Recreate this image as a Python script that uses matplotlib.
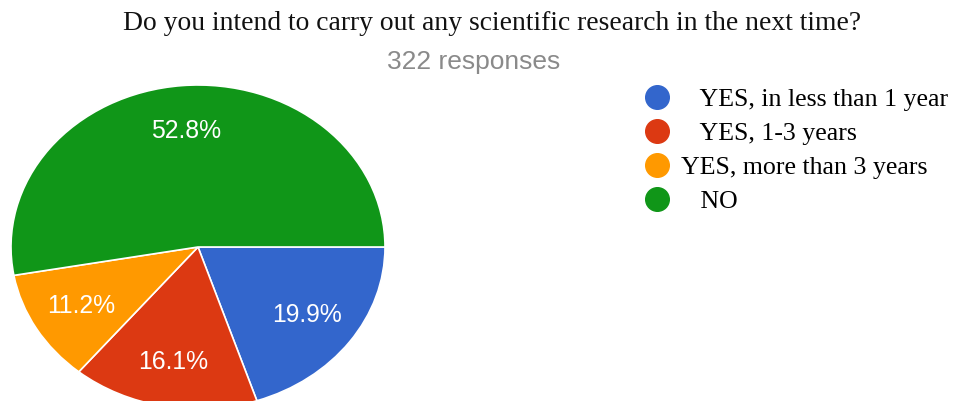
import matplotlib.pyplot as plt
from matplotlib.lines import Line2D

labels = ["YES, in less than 1 year", "YES, 1-3 years", "YES, more than 3 years", "NO"]
# leading spaces as in the original legend
legend_labels = ["   YES, in less than 1 year", "   YES, 1-3 years", "YES, more than 3 years", "   NO"]
shares = [19.9, 16.1, 11.2, 52.8]
colors = ["#3366cc", "#dc3912", "#ff9900", "#109618"]

W, H = 959, 401
fig = plt.figure(figsize=(W / 100, H / 100), dpi=100)

# pie axes, stretched horizontally like the screenshot
ax = fig.add_axes([11 / W, (401 - 409) / H, 374 / W, 324 / H])
wedges, texts, autotexts = ax.pie(
    shares, colors=colors, startangle=0, counterclock=False,
    autopct="%.1f%%", pctdistance=0.72,
    wedgeprops=dict(edgecolor="white", linewidth=1.2),
    textprops=dict(color="white", fontsize=17.8, family="Liberation Sans"),
)
ax.set_aspect("auto")
ax.set_xlim(-1.0, 1.0)
ax.set_ylim(-1.0, 1.0)

fig.text(492 / W, 1 - 24 / H, "Do you intend to carry out any scientific research in the next time?",
         ha="center", va="center", fontsize=19.9, family="Liberation Serif", color="#111111")
fig.text(474 / W, 1 - 62 / H, "322 responses", ha="center", va="center",
         fontsize=19, family="Liberation Sans", color="#8a8a8a")

handles = [Line2D([], [], marker="o", linestyle="none", markersize=17,
                  markerfacecolor=c, markeredgecolor=c) for c in colors]
fig.legend(handles, legend_labels, loc="upper left", bbox_to_anchor=(618 / W, 1 - 70 / H),
           frameon=False, handlelength=1.6, handletextpad=0.15, labelspacing=0.42,
           borderpad=0.2, prop=dict(family="Liberation Serif", size=18.6))

fig.savefig("out.png", dpi=100)
